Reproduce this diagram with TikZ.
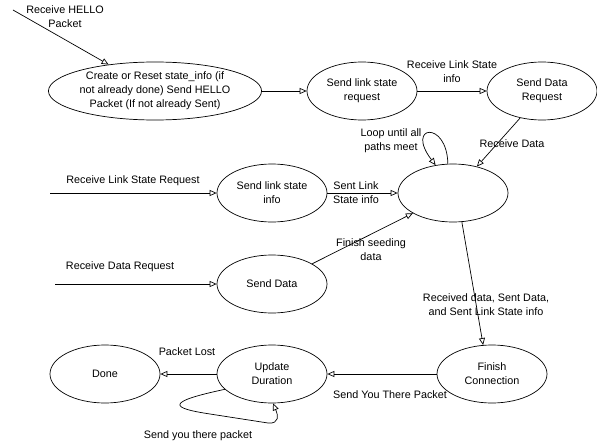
\documentclass[tikz,border=0pt]{standalone}
\usepackage{fontspec}
\setmainfont{Liberation Sans}
\usetikzlibrary{shapes.geometric,arrows.meta}

\begin{document}
\begin{tikzpicture}[x=1pt,y=-1pt,line width=0.7pt,
		trans/.style={-{Triangle[open,length=7pt,width=6pt]}},
		state/.style={draw,ellipse,minimum width=110pt,minimum height=58pt,inner sep=0pt,align=center}]
		\tikzstyle{every node}+=[font=\fontsize{10.8}{14}\selectfont,align=center]
		\useasboundingbox (0,0) rectangle (597,444);
		% states
		\node [state,minimum width=197pt] (hello) at (155,91) {Create or Reset state\_info (if\\not already done) Send HELLO\\Packet (If not already Sent)};
		\node [state] (lsreq) at (362,91) {Send link state\\request};
		\node [state] (datareq) at (542,91) {Send Data\\Request};
		\node [state] (meet) at (453,193) {};
		\node [state] (lsinfo) at (272,193) {Send link state\\info};
		\node [state] (senddata) at (272,284) {Send Data};
		\node [state] (done) at (105,374) {Done};
		\node [state] (update) at (272,374) {Update\\Duration};
		\node [state] (finish) at (492,374) {Finish\\Connection};
		% free ends
		\coordinate (helloin) at (13,10);
		\coordinate (lsin) at (50,193);
		\coordinate (datain) at (55,284);
		% transitions
		\draw [trans] (helloin) -- (hello);
		\node (hellolbl) at (65,17) {Receive HELLO\\Packet};
		\draw [trans] (hello) -- (lsreq);
		\draw [trans] (lsreq) -- (datareq);
		\node (lsreqlbl) at (452,72) {Receive Link State\\info};
		\draw [trans] (datareq.231) -- (meet.48);
		\node (datareqlbl) at (512,144) {Receive Data};
		\draw [trans] (meet.100) .. controls (447,120) and (405,125) .. (meet.122);
		\node (looplbl) at (391,141) {Loop until all\\paths meet};
		\draw [trans] (lsin) -- (lsinfo);
		\node (lsinlbl) at (133,181) {Receive Link State Request};
		\draw [trans] (lsinfo) -- (meet);
		\node (lsinfolbl) at (356,193) {Sent Link\\State info};
		\draw [trans] (datain) -- (senddata);
		\node (datainlbl) at (120,267) {Receive Data Request};
		\draw [trans] (senddata) -- (meet);
		\node (senddatalbl) at (371,250) {Finish seeding\\data};
		\draw [trans] (meet.287) -- (finish.107);
		\node (meetlbl) at (486,305) {Received data, Sent Data,\\and Sent Link State info};
		\draw [trans] (finish) -- (update);
		\node (finishlbl) at (390,395) {Send You There Packet};
		\draw [trans] (update) -- (done);
		\node (updatelbl) at (187,352) {Packet Lost};
		\draw [trans] (update.198) .. controls (165,402) and (170,408) .. (210,414) -- (268,423) .. controls (280,424) and (278,415) .. (update.272);
		\node (looplbl2) at (198,436) {Send you there packet};
	\end{tikzpicture}
\end{document}
